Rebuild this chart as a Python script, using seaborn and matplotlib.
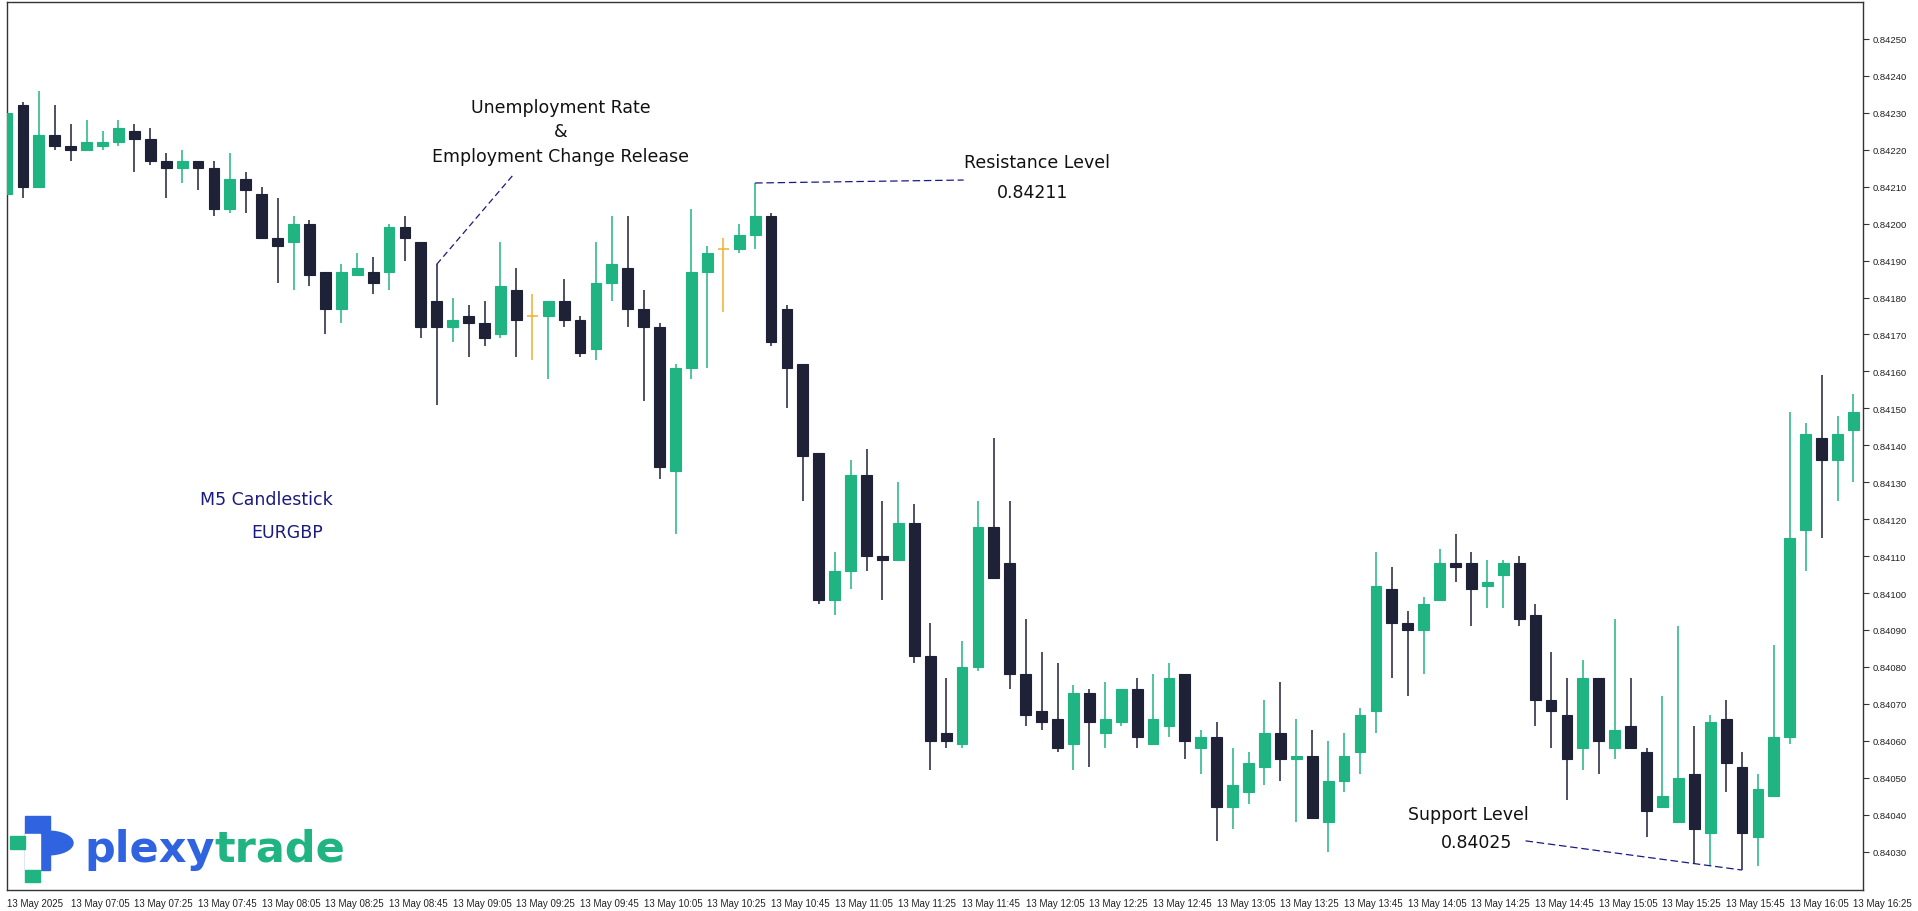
import numpy as np
import pandas as pd
import seaborn as sns
import matplotlib.pyplot as plt
from matplotlib.patches import Rectangle, Wedge

# EURGBP M5 candles, 13 May 2025 06:45 - 16:25 (prices in 1e-5 units)
opens = [84208, 84232, 84210, 84224, 84221, 84220, 84221, 84222, 84225, 84223,
         84217, 84215, 84217, 84215, 84204, 84212, 84208, 84196, 84195, 84200,
         84187, 84177, 84186, 84187, 84187, 84199, 84195, 84179, 84172, 84175,
         84173, 84170, 84182, 84175, 84175, 84179, 84174, 84166, 84184, 84188,
         84177, 84172, 84133, 84161, 84187, 84193, 84193, 84197, 84202, 84177,
         84162, 84138, 84098, 84106, 84132, 84110, 84109, 84119, 84083, 84062,
         84059, 84080, 84118, 84108, 84078, 84068, 84066, 84059, 84073, 84062,
         84065, 84074, 84059, 84064, 84078, 84058, 84061, 84042, 84046, 84053,
         84062, 84055, 84056, 84038, 84049, 84057, 84068, 84101, 84092, 84090,
         84098, 84108, 84108, 84102, 84105, 84108, 84094, 84071, 84067, 84058,
         84077, 84058, 84064, 84057, 84042, 84038, 84051, 84035, 84066, 84053,
         84034, 84045, 84061, 84117, 84142, 84136, 84144]
highs = [84230, 84233, 84236, 84232, 84227, 84228, 84225, 84228, 84227, 84226,
         84219, 84220, 84217, 84217, 84219, 84214, 84210, 84207, 84202, 84201,
         84187, 84189, 84192, 84191, 84200, 84202, 84195, 84189, 84180, 84178,
         84179, 84195, 84188, 84181, 84179, 84185, 84175, 84195, 84202, 84202,
         84182, 84173, 84162, 84204, 84194, 84196, 84200, 84211, 84203, 84178,
         84162, 84138, 84111, 84136, 84139, 84125, 84130, 84124, 84092, 84077,
         84087, 84125, 84142, 84125, 84093, 84084, 84081, 84075, 84074, 84076,
         84074, 84077, 84078, 84081, 84078, 84063, 84065, 84058, 84057, 84071,
         84076, 84066, 84063, 84060, 84062, 84069, 84111, 84107, 84095, 84099,
         84112, 84116, 84111, 84109, 84109, 84110, 84097, 84084, 84077, 84082,
         84077, 84093, 84077, 84058, 84072, 84091, 84064, 84067, 84071, 84057,
         84051, 84086, 84149, 84146, 84159, 84148, 84154]
lows = [84208, 84207, 84210, 84220, 84217, 84220, 84220, 84221, 84214, 84216,
        84207, 84211, 84209, 84202, 84203, 84203, 84196, 84184, 84182, 84183,
        84170, 84173, 84186, 84181, 84182, 84190, 84169, 84151, 84168, 84164,
        84167, 84169, 84164, 84163, 84158, 84172, 84164, 84163, 84179, 84172,
        84152, 84131, 84116, 84158, 84161, 84176, 84192, 84193, 84167, 84150,
        84125, 84097, 84094, 84101, 84106, 84098, 84109, 84081, 84052, 84058,
        84058, 84079, 84104, 84074, 84064, 84063, 84057, 84052, 84053, 84058,
        84064, 84058, 84059, 84061, 84055, 84051, 84033, 84036, 84043, 84048,
        84049, 84038, 84039, 84030, 84046, 84051, 84062, 84077, 84072, 84078,
        84098, 84103, 84091, 84096, 84096, 84091, 84064, 84058, 84044, 84052,
        84051, 84055, 84058, 84034, 84042, 84038, 84027, 84026, 84046, 84025,
        84026, 84045, 84059, 84106, 84115, 84125, 84130]
closes = [84230, 84210, 84224, 84221, 84220, 84222, 84222, 84226, 84223, 84217,
          84215, 84217, 84215, 84204, 84212, 84209, 84196, 84194, 84200, 84186,
          84177, 84187, 84188, 84184, 84199, 84196, 84172, 84172, 84174, 84173,
          84169, 84183, 84174, 84175, 84179, 84174, 84165, 84184, 84189, 84177,
          84172, 84134, 84161, 84187, 84192, 84193, 84197, 84202, 84168, 84161,
          84137, 84098, 84106, 84132, 84110, 84109, 84119, 84083, 84060, 84060,
          84080, 84118, 84104, 84078, 84067, 84065, 84058, 84073, 84065, 84066,
          84074, 84061, 84066, 84077, 84060, 84061, 84042, 84048, 84054, 84062,
          84055, 84056, 84039, 84049, 84056, 84067, 84102, 84092, 84090, 84097,
          84108, 84107, 84101, 84103, 84108, 84093, 84071, 84068, 84055, 84077,
          84060, 84063, 84058, 84041, 84045, 84050, 84036, 84065, 84054, 84035,
          84047, 84061, 84115, 84143, 84136, 84143, 84149]
doji_idx = [33, 45]

df = pd.DataFrame({"open": opens, "high": highs, "low": lows, "close": closes}) / 1e5

start = pd.Timestamp("2025-05-13 06:45")
times = [start + pd.Timedelta(minutes=5 * i) for i in range(len(df))]

sns.set_style("white")
plt.rcParams["font.family"] = ["DejaVu Sans"]

GREEN = "#20b482"
DARK = "#1f2137"
ORANGE = "#f0b030"
NAVY = "#1a1a80"

W, H = 1918, 912
fig = plt.figure(figsize=(W / 100, H / 100), dpi=100)
ax = fig.add_axes([7 / W, 1 - 891 / H, (1863 - 7) / W, (891 - 3) / H])

x = np.arange(len(df))
up = df["close"] >= df["open"]
cols = np.where(up, GREEN, DARK)
cols = [ORANGE if i in doji_idx else c for i, c in enumerate(cols)]

ax.vlines(x, df["low"], df["high"], colors=cols, linewidth=1.1, zorder=2)
body_lo = np.minimum(df["open"], df["close"])
body_h = np.abs(df["close"] - df["open"])
for i in x:
    if i in doji_idx:
        ax.hlines(df["open"][i], i - 0.34, i + 0.34, colors=ORANGE, linewidth=1.1, zorder=3)
        continue
    ax.bar(i, max(body_h[i], 0.000008), bottom=body_lo[i], width=0.68,
           color=cols[i], edgecolor=DARK if not up[i] else GREEN, linewidth=0.8, zorder=3)

ax.set_xlim(0.13, 116.6)
ax.set_ylim(0.840196, 0.842600)

# axes styling
for s in ax.spines.values():
    s.set_color("#333333")
    s.set_linewidth(1)
ax.yaxis.tick_right()
yt = np.arange(84030, 84251, 10) / 1e5
ax.set_yticks(yt)
ax.set_yticklabels([f"{v:.5f}" for v in yt], fontsize=6.8, color="#222222",
                   family="Liberation Sans")
xt = list(range(0, len(df), 4))
xl = ["13 May 2025" if i == 0 else "13 May " + times[i].strftime("%H:%M") for i in xt]
ax.set_xticks(xt)
ax.set_xticklabels(xl, fontsize=7, ha="left", color="#222222", family="Liberation Sans")
ax.tick_params(axis="both", direction="out", length=4, width=0.8, color="#333333", pad=2)
ax.tick_params(axis="y", pad=3)

# annotations
ax.text(34.8, 0.842250, "Unemployment Rate\n&\nEmployment Change Release", ha="center",
        va="center", fontsize=12.5, color="#111111", linespacing=1.45)
ax.plot([27, 31.9], [0.84189, 0.842137], ls=(0, (5, 3)), color=NAVY, lw=0.9)

ax.plot([47, 60.1], [0.84211, 0.842118], ls=(0, (6, 3)), color=NAVY, lw=0.9)
ax.text(64.7, 0.842167, "Resistance Level", ha="center", va="center", fontsize=12.5, color="#111111")
ax.text(64.4, 0.842085, "0.84211", ha="center", va="center", fontsize=12.5, color="#111111")

ax.plot([95.4, 109], [0.840329, 0.84025], ls=(0, (6, 3)), color=NAVY, lw=0.9)
ax.text(91.8, 0.840402, "Support Level", ha="center", va="center", fontsize=12.5, color="#111111")
ax.text(92.3, 0.840326, "0.84025", ha="center", va="center", fontsize=12.5, color="#111111")

ax.text(16.3, 0.841254, "M5 Candlestick", ha="center", va="center", fontsize=12.5, color=NAVY)
ax.text(17.6, 0.841164, "EURGBP", ha="center", va="center", fontsize=12.5, color=NAVY)

# logo
def px(x0, y0):
    return (x0 / W, 1 - y0 / H)

tf = fig.transFigure
fig.patches.append(Rectangle(px(25, 871), 25 / W, 54 / H, color="#2f63e0", transform=tf))
fig.patches.append(Wedge(px(48, 844), 25 / W, -90, 90, color="#2f63e0", transform=tf))
fig.patches.append(Rectangle(px(25, 871), 15 / W, 36 / H, color="white", transform=tf))
fig.patches.append(Rectangle(px(10, 850), 15 / W, 13 / H, color=GREEN, transform=tf))
fig.patches.append(Rectangle(px(25, 883), 15 / W, 12 / H, color=GREEN, transform=tf))
t1 = fig.text(*px(84, 862), "plexy", fontsize=31, fontweight="bold", color="#2f63e0", va="baseline")
ax.annotate("trade", xy=(1, 0), xycoords=t1, va="bottom", fontsize=31, fontweight="bold", color=GREEN)

fig.savefig("out.png", dpi=100)
